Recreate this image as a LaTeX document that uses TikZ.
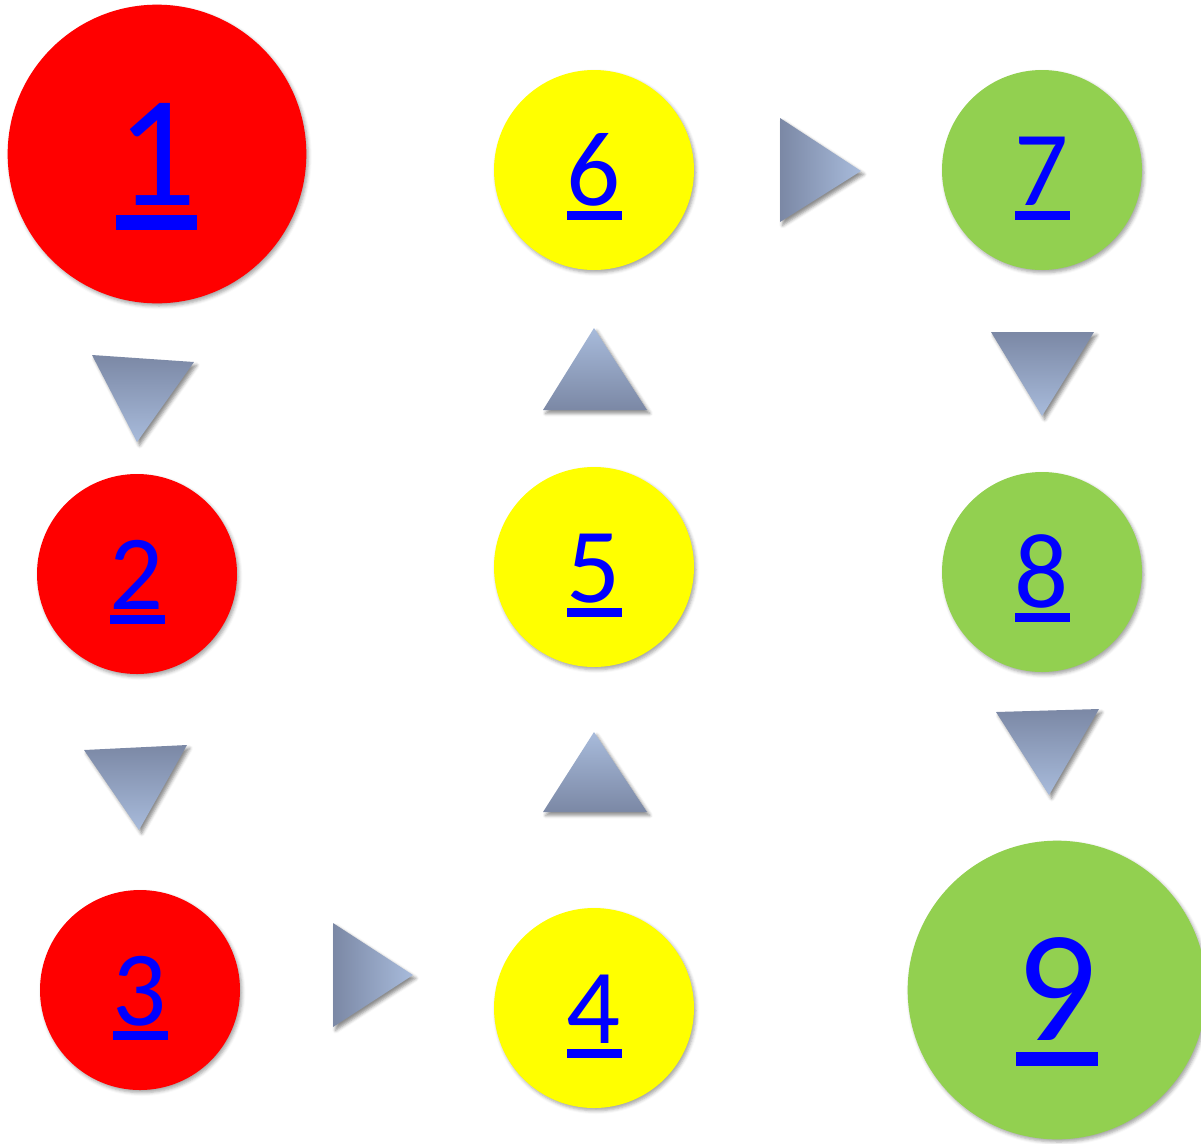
\documentclass[tikz,border=0pt]{standalone}
\usepackage{fontspec}
\setmainfont{Carlito}
\usetikzlibrary{shadows.blur,calc}
\definecolor{cred}{HTML}{FF0000}
\definecolor{cyel}{HTML}{FFFF00}
\definecolor{cgrn}{HTML}{92D050}
\definecolor{tdark}{HTML}{7B88A5}
\definecolor{tlight}{HTML}{A8BBDB}
\definecolor{lnk}{HTML}{0000FF}
\tikzset{
  bubble/.style={circle, inner sep=0pt, draw=none,
    blur shadow={shadow xshift=1.5pt, shadow yshift=-2pt, shadow blur radius=2.5pt, shadow opacity=35}},
  smallb/.style={bubble, minimum size=150pt},
  bigb/.style={bubble, minimum size=224pt},
  digit/.style={inner sep=0pt, text=lnk, font=\fontsize{80}{96}\selectfont, anchor=base},
  bigdigit/.style={inner sep=0pt, text=lnk, font=\fontsize{119}{140}\selectfont, anchor=base},
  tri/.style={blur shadow={shadow xshift=2pt, shadow yshift=-2.5pt, shadow blur radius=2.5pt, shadow opacity=45}},
  downtri/.style={tri, top color=tdark, bottom color=tlight},
  uptri/.style={tri, top color=tlight, bottom color=tdark},
  righttri/.style={tri, left color=tdark, right color=tlight},
}
\begin{document}
\begin{tikzpicture}[x=0.75pt,y=-0.75pt]
\useasboundingbox (0,0) rectangle (1201,1143);
% circles
\node[bigb, fill=cred] (c1) at (157,154) {};
\node[smallb, fill=cred] (c2) at (137,574) {};
\node[smallb, fill=cred] (c3) at (140,990) {};
\node[smallb, fill=cyel] (c4) at (594,1008) {};
\node[smallb, fill=cyel] (c5) at (594,567) {};
\node[smallb, fill=cyel] (c6) at (594,170) {};
\node[smallb, fill=cgrn] (c7) at (1042,170) {};
\node[smallb, fill=cgrn] (c8) at (1042,572) {};
\node[bigb, fill=cgrn] (c9) at (1057,990) {};
% digits
\node[bigdigit] (t1) at ($(c1.center)+(0,51)$) {1};
\fill[lnk] ($(c1.center)+(-41,61)$) rectangle ($(c1.center)+(40,76)$);
\foreach \n in {2,...,8}{
  \node[digit] (t\n) at ($(c\n.center)+(0,35)$) {\n};
  \fill[lnk] ($(c\n.center)+(-27,41)$) rectangle ($(c\n.center)+(28,50)$);
}
\node[bigdigit] (t9) at ($(c9.center)+(0,50)$) {9};
\fill[lnk] ($(c9.center)+(-41,62)$) rectangle ($(c9.center)+(41,76)$);
% arrows
\shade[downtri] (92,355) -- (194,362) -- (137,442) -- cycle;
\shade[downtri] (84,750) -- (187,745) -- (139,830) -- cycle;
\shade[righttri] (333,923) -- (413,975) -- (333,1027) -- cycle;
\shade[uptri] (543,812) -- (594,732) -- (647,812) -- cycle;
\shade[uptri] (543,410) -- (594,328) -- (647,410) -- cycle;
\shade[righttri] (780,118) -- (861,171) -- (780,222) -- cycle;
\shade[downtri] (991,332) -- (1094,332) -- (1042,416) -- cycle;
\shade[downtri] (996,712) -- (1099,709) -- (1049,795) -- cycle;
\end{tikzpicture}
\end{document}
